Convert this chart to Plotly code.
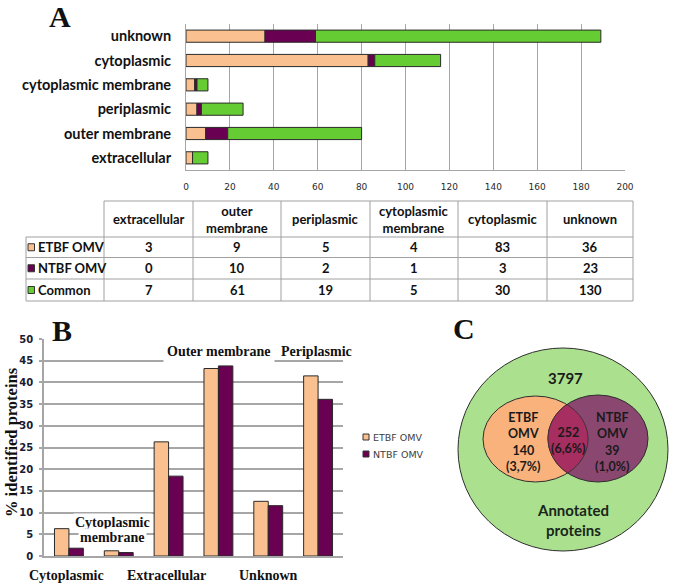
import numpy as np
import plotly.graph_objects as go

W, H = 675, 584

# ---------------- data ----------------
# Panel A (counts per localisation)
loc_categories = ["extracellular", "outer membrane", "periplasmic",
                  "cytoplasmic membrane", "cytoplasmic", "unknown"]
loc_headers = ["extracellular", "outer<br>membrane", "periplasmic",
               "cytoplasmic<br>membrane", "cytoplasmic", "unknown"]
etbf_counts = [3, 9, 5, 4, 83, 36]
ntbf_counts = [0, 10, 2, 1, 3, 23]
common_counts = [7, 61, 19, 5, 30, 130]
series_names = ["ETBF OMV", "NTBF OMV", "Common"]
count_ticks = [0, 20, 40, 60, 80, 100, 120, 140, 160, 180, 200]

# Panel B (% identified proteins)
pct_categories = ["Cytoplasmic", "Cytoplasmic membrane", "Extracellular",
                  "Outer membrane", "Unknown", "Periplasmic"]
etbf_pct = [6.3, 1.2, 26.3, 43.2, 12.6, 41.5]
ntbf_pct = [1.8, 0.8, 18.4, 43.8, 11.6, 36.1]
pct_ticks = [0, 5, 10, 15, 20, 25, 30, 35, 40, 45, 50]

# Panel C (Venn)
venn_total = 3797
venn_counts = [140, 252, 39]          # ETBF only, shared, NTBF only
venn_pcts = [3.7, 6.6, 1.0]
venn_labels = ["ETBF<br>OMV", "", "NTBF<br>OMV"]
venn_caption = "Annotated<br>proteins"

# ---------------- styles ----------------
C_ETBF = "#FAC090"
C_NTBF = "#6A0052"
C_COMMON = "#66CC33"
GRID = "#A6A6A6"
SANS = "Lato"
TICK = "DejaVu Sans"
SERIF = "Liberation Serif"


def px(x):
    return x / W


def py(y):
    return 1 - y / H


fig = go.Figure()

# ---------------- Panel A: stacked horizontal bars ----------------
base_ntbf = list(etbf_counts)
base_common = [a + b for a, b in zip(etbf_counts, ntbf_counts)]
for vals, base, col, name in [
    (etbf_counts, [0] * 6, C_ETBF, series_names[0]),
    (ntbf_counts, base_ntbf, C_NTBF, series_names[1]),
    (common_counts, base_common, C_COMMON, series_names[2]),
]:
    fig.add_trace(go.Bar(
        x=vals, y=loc_categories, base=base, orientation="h",
        width=0.5, offset=-0.25, name=name, showlegend=False,
        marker=dict(color=col, line=dict(color="#2A2A2A", width=1)),
        xaxis="x", yaxis="y"))

# ---------------- Panel B: grouped bars ----------------
fig.add_trace(go.Bar(
    x=pct_categories, y=etbf_pct, width=0.29, offset=-0.29,
    name="ETBF OMV", showlegend=False,
    marker=dict(color=C_ETBF, line=dict(color="#2A2A2A", width=1)),
    xaxis="x2", yaxis="y2"))
fig.add_trace(go.Bar(
    x=pct_categories, y=ntbf_pct, width=0.29, offset=0.0,
    name="NTBF OMV", showlegend=False,
    marker=dict(color=C_NTBF, line=dict(color="#2A2A2A", width=1)),
    xaxis="x2", yaxis="y2"))

shapes = []
ann = []

# hide the top gridline (50) of panel B
shapes.append(dict(type="line", xref="x2 domain", yref="y2", x0=0.004, x1=1.0,
                   y0=50, y1=50, line=dict(color="white", width=3), layer="above"))

# ---------------- Table ----------------
col_x = [104, 193, 281, 370, 458, 547, 633]
row_y = [201, 237, 257.5, 279, 301]
left_x = 26
bl = dict(color="#A0A0A0", width=1)
# header row
shapes.append(dict(type="line", xref="paper", yref="paper", x0=px(col_x[0]), x1=px(col_x[-1]),
                   y0=py(row_y[0]), y1=py(row_y[0]), line=bl))
for yy in row_y[1:]:
    shapes.append(dict(type="line", xref="paper", yref="paper", x0=px(left_x), x1=px(col_x[-1]),
                       y0=py(yy), y1=py(yy), line=bl))
for xx in col_x:
    shapes.append(dict(type="line", xref="paper", yref="paper", x0=px(xx), x1=px(xx),
                       y0=py(row_y[0]), y1=py(row_y[-1]), line=bl))
shapes.append(dict(type="line", xref="paper", yref="paper", x0=px(left_x), x1=px(left_x),
                   y0=py(row_y[1]), y1=py(row_y[-1]), line=bl))

tfont = dict(family=SANS, size=13, color="#111111", weight="bold")
col_centers = [(col_x[i] + col_x[i + 1]) / 2 for i in range(6)]
for i, h in enumerate(loc_headers):
    ann.append(dict(x=px(col_centers[i]), y=py((row_y[0] + row_y[1]) / 2), xref="paper", yref="paper",
                    text=h, showarrow=False, font=tfont, xanchor="center", yanchor="middle"))
for r, (name, vals, col) in enumerate(zip(series_names,
                                         [etbf_counts, ntbf_counts, common_counts],
                                         [C_ETBF, C_NTBF, C_COMMON])):
    yc = (row_y[r + 1] + row_y[r + 2]) / 2
    shapes.append(dict(type="rect", xref="paper", yref="paper", x0=px(28), x1=px(34.5),
                       y0=py(yc + 3.5), y1=py(yc - 3.5), fillcolor=col,
                       line=dict(color="#333333", width=1)))
    ann.append(dict(x=px(36), y=py(yc), xref="paper", yref="paper", text=name,
                    showarrow=False, font=tfont, xanchor="left", yanchor="middle"))
    for i, v in enumerate(vals):
        ann.append(dict(x=px(col_centers[i]), y=py(yc), xref="paper", yref="paper", text=str(v),
                        showarrow=False, font=tfont, xanchor="center", yanchor="middle"))

# ---------------- Panel B labels ----------------
lfont = dict(family=SERIF, size=14, color="#111111", weight="bold")
label_pos = {  # (y pixel, xshift, white background)
    "Cytoplasmic": (575, -2, False),
    "Extracellular": (575, -2, False),
    "Unknown": (575, 0, False),
    "Outer membrane": (351, 1, True),
    "Periplasmic": (351, -2, False),
}
for cat in pct_categories:
    if cat == "Cytoplasmic membrane":
        for j, word in enumerate(cat.split(" ")):
            yy = [522.7, 537.3][j]
            ann.append(dict(x=cat, y=py(yy), xref="x2", yref="paper", text=word, xshift=-6,
                            showarrow=False, font=lfont, xanchor="center", yanchor="middle",
                            bgcolor="white", borderpad=1))
        continue
    yy, xs, bg = label_pos[cat]
    d = dict(x=cat, y=py(yy), xref="x2", yref="paper", text=cat, xshift=xs,
             showarrow=False, font=lfont, xanchor="center", yanchor="middle")
    if bg:
        d.update(bgcolor="white", borderpad=3)
    ann.append(d)

ann.append(dict(x=px(11), y=py(442), xref="paper", yref="paper", text="% identified proteins",
                textangle=-90, showarrow=False,
                font=dict(family=SERIF, size=16.5, color="#111111", weight="bold"),
                xanchor="center", yanchor="middle"))

# legend of B
for j, (name, col) in enumerate(zip(series_names[:2], [C_ETBF, C_NTBF])):
    yc = [437, 454][j]
    shapes.append(dict(type="rect", xref="paper", yref="paper", x0=px(363), x1=px(369),
                       y0=py(yc + 3), y1=py(yc - 3), fillcolor=col,
                       line=dict(color="#333333", width=1)))
    ann.append(dict(x=px(370.5), y=py(yc), xref="paper", yref="paper", text=name,
                    showarrow=False, font=dict(family=TICK, size=9.5, color="#404040"),
                    xanchor="left", yanchor="middle"))

# ---------------- Panel C: Venn ----------------
outer = (563, 449.5, 105, 101.5)
e_c = (535.5, 439, 52.5, 43)
n_c = (598, 438.5, 50, 43.5)
vline = dict(color="#2E2E2E", width=1)


def ellipse_shape(c, fill):
    cx, cy, rx, ry = c
    return dict(type="circle", xref="paper", yref="paper",
                x0=px(cx - rx), x1=px(cx + rx), y0=py(cy + ry), y1=py(cy - ry),
                fillcolor=fill, line=vline)


shapes.append(ellipse_shape(outer, "#ABE18E"))
shapes.append(ellipse_shape(e_c, "#F9B27C"))
shapes.append(ellipse_shape(n_c, "#8A4870"))

# lens (intersection)
t = np.linspace(0, 2 * np.pi, 720, endpoint=False)


def pts(c):
    cx, cy, rx, ry = c
    return cx + rx * np.cos(t), cy + ry * np.sin(t)


def inside(x, y, c):
    cx, cy, rx, ry = c
    return ((x - cx) / rx) ** 2 + ((y - cy) / ry) ** 2 <= 1.0


ex, ey = pts(e_c)
nx_, ny_ = pts(n_c)
m1 = inside(ex, ey, n_c)
m2 = inside(nx_, ny_, e_c)
lx = np.concatenate([ex[m1], nx_[m2]])
ly = np.concatenate([ey[m1], ny_[m2]])
ang = np.arctan2(ly - ly.mean(), lx - lx.mean())
order = np.argsort(ang)
lx, ly = lx[order], ly[order]
path = "M " + " L ".join(f"{px(a):.5f},{py(b):.5f}" for a, b in zip(lx, ly)) + " Z"
shapes.append(dict(type="path", xref="paper", yref="paper", path=path,
                   fillcolor="#A72E60", line=vline))

vfont = dict(family=SANS, size=12.5, color="#1A1A1A", weight="bold")


def fmt_pct(v):
    return f"({v:.1f}%)".replace(".", ",")


ann.append(dict(x=px(523), y=py(442), xref="paper", yref="paper",
                text=f"{venn_labels[0]}<br>{venn_counts[0]}<br>{fmt_pct(venn_pcts[0])}",
                showarrow=False, font=vfont, xanchor="center", yanchor="middle"))
ann.append(dict(x=px(568), y=py(440), xref="paper", yref="paper",
                text=f"{venn_counts[1]}<br>{fmt_pct(venn_pcts[1])}",
                showarrow=False, font=vfont, xanchor="center", yanchor="middle"))
ann.append(dict(x=px(612), y=py(442), xref="paper", yref="paper",
                text=f"{venn_labels[2]}<br>{venn_counts[2]}<br>{fmt_pct(venn_pcts[2])}",
                showarrow=False, font=vfont, xanchor="center", yanchor="middle"))
ann.append(dict(x=px(565), y=py(378), xref="paper", yref="paper", text=str(venn_total),
                showarrow=False, font=dict(family=SANS, size=15, color="#1A1A1A", weight="bold"),
                xanchor="center", yanchor="middle"))
ann.append(dict(x=px(573), y=py(519.5), xref="paper", yref="paper", text=venn_caption,
                showarrow=False, font=dict(family=SANS, size=15, color="#1A261A", weight="bold"),
                xanchor="center", yanchor="middle"))

# panel letters
pfont = dict(family=SERIF, size=30, color="#111111", weight="bold")
for letter, (x, y) in {"A": (60, 16), "B": (62, 330), "C": (464, 328)}.items():
    ann.append(dict(x=px(x), y=py(y), xref="paper", yref="paper", text=letter,
                    showarrow=False, font=pfont, xanchor="center", yanchor="middle"))

fig.update_layout(
    template="none",
    width=W, height=H,
    margin=dict(l=0, r=0, t=0, b=0),
    paper_bgcolor="white", plot_bgcolor="rgba(0,0,0,0)",
    barmode="group",
    showlegend=False,
    shapes=shapes, annotations=ann,
    xaxis=dict(domain=[px(186), px(625)], range=[0, 200], tickvals=count_ticks,
               showgrid=True, gridcolor=GRID, gridwidth=1, zeroline=False,
               showline=True, linecolor=GRID, linewidth=1, ticks="",
               tickfont=dict(family=TICK, size=9, color="#2A2A2A"),
               ticklabelstandoff=8, anchor="y", automargin=False, fixedrange=True),
    yaxis=dict(domain=[py(170), py(24)], range=[-0.5, 5.5], type="category",
               categoryorder="array", categoryarray=loc_categories,
               showgrid=False, zeroline=False, showline=True, linecolor=GRID,
               ticks="", tickfont=dict(family=SANS, size=14.5, color="#111111", weight="bold"),
               ticklabelstandoff=11, anchor="x", automargin=False, fixedrange=True),
    xaxis2=dict(domain=[px(44), px(343)], range=[-0.5, 5.5], type="category",
                categoryorder="array", categoryarray=pct_categories,
                showticklabels=False, showgrid=False, zeroline=False,
                showline=True, linecolor=GRID, linewidth=1.5, ticks="",
                anchor="y2", automargin=False, fixedrange=True),
    yaxis2=dict(domain=[py(556), py(339)], range=[0, 50], tickvals=pct_ticks,
                showgrid=True, gridcolor=GRID, gridwidth=1.5, zeroline=False,
                showline=True, linecolor=GRID, linewidth=1.5,
                ticks="outside", ticklen=3, tickcolor=GRID, tickwidth=1.5,
                tickfont=dict(family=TICK, size=10, color="#1A1A33", weight="bold"),
                ticklabelstandoff=4, anchor="x2", automargin=False, fixedrange=True),
)

fig.write_html("out.html", config={"displayModeBar": False},
               post_script="document.body.style.margin='0';document.body.style.overflow='hidden';")
